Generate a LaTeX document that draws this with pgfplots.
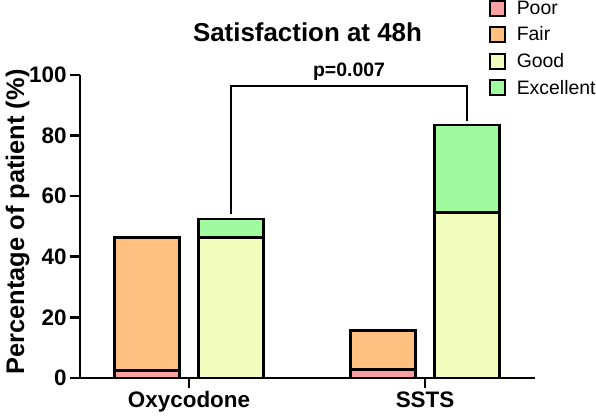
\documentclass[border=0pt]{standalone}
\usepackage{fontspec}
\setmainfont{Liberation Sans}
\usepackage{pgfplots}
\pgfplotsset{compat=1.18}
\definecolor{cpoor}{RGB}{250,160,160}
\definecolor{cfair}{RGB}{255,192,128}
\definecolor{cgood}{RGB}{242,253,190}
\definecolor{cexc}{RGB}{160,250,160}
\begin{document}
\begin{tikzpicture}
\path[use as bounding box] (0,0) rectangle (596bp,419bp);
\begin{axis}[
  at={(80bp,41bp)}, anchor=south west,
  scale only axis, width=455bp, height=303bp,
  xmin=0.538, xmax=2.466, ymin=0, ymax=100,
  axis lines=left,
  axis line style={black, line width=2.8bp, -},
  ybar stacked, bar width=65bp,
  xtick={1,2}, xticklabels={Oxycodone,SSTS},
  ytick={0,20,40,60,80,100},
  tick align=outside, major tick length=10bp,
  tick style={black, line width=2.6bp},
  /pgf/number format/assume math mode=true,
  ticklabel style={font=\fontsize{22.5}{22.5}\selectfont\bfseries},
  ylabel={Percentage of patient (\%)},
  ylabel style={at={(axis description cs:-0.137,0.515)}, anchor=center, font=\fontsize{25.5}{25.5}\selectfont\bfseries},
  title={Satisfaction at 48h},
  title style={at={(axis description cs:0.5,1.12)}, anchor=center, font=\fontsize{26}{26}\selectfont\bfseries},
  legend style={at={(axis description cs:0.8916,1.255)}, anchor=north west, draw=none, fill=none,
    font=\fontsize{19.5}{19.5}\selectfont, row sep=9bp,
    nodes={inner sep=1bp}},
  legend cell align=left,
  legend image code/.code={\path[draw=none,fill=none] (0bp,0bp) -- (26bp,0bp);\draw[#1, line width=1.8bp] (0bp,-7.5bp) rectangle (15bp,7.5bp);},
  clip=false,
]
\addplot[fill=cpoor, draw=black, line width=2.8bp] coordinates {(0.822,2.5) (1.178,0) (1.822,2.7) (2.178,0)};
\addplot[fill=cfair, draw=black, line width=2.8bp] coordinates {(0.822,44) (1.178,0) (1.822,13) (2.178,0)};
\addplot[fill=cgood, draw=black, line width=2.8bp] coordinates {(0.822,0) (1.178,46.5) (1.822,0) (2.178,54.5)};
\addplot[fill=cexc, draw=black, line width=2.8bp] coordinates {(0.822,0) (1.178,6) (1.822,0) (2.178,29)};
\legend{Poor,Fair,Good,Excellent}
\draw[black, line width=2.6bp] (axis cs:1.178,54.2) -- (axis cs:1.178,96.4) -- (axis cs:2.178,96.4) -- (axis cs:2.178,84.8);
\node[font=\fontsize{19.5}{19.5}\selectfont\bfseries, anchor=south] at (axis cs:1.678,97.0) {p=0.007};
\end{axis}
\end{tikzpicture}
\end{document}
